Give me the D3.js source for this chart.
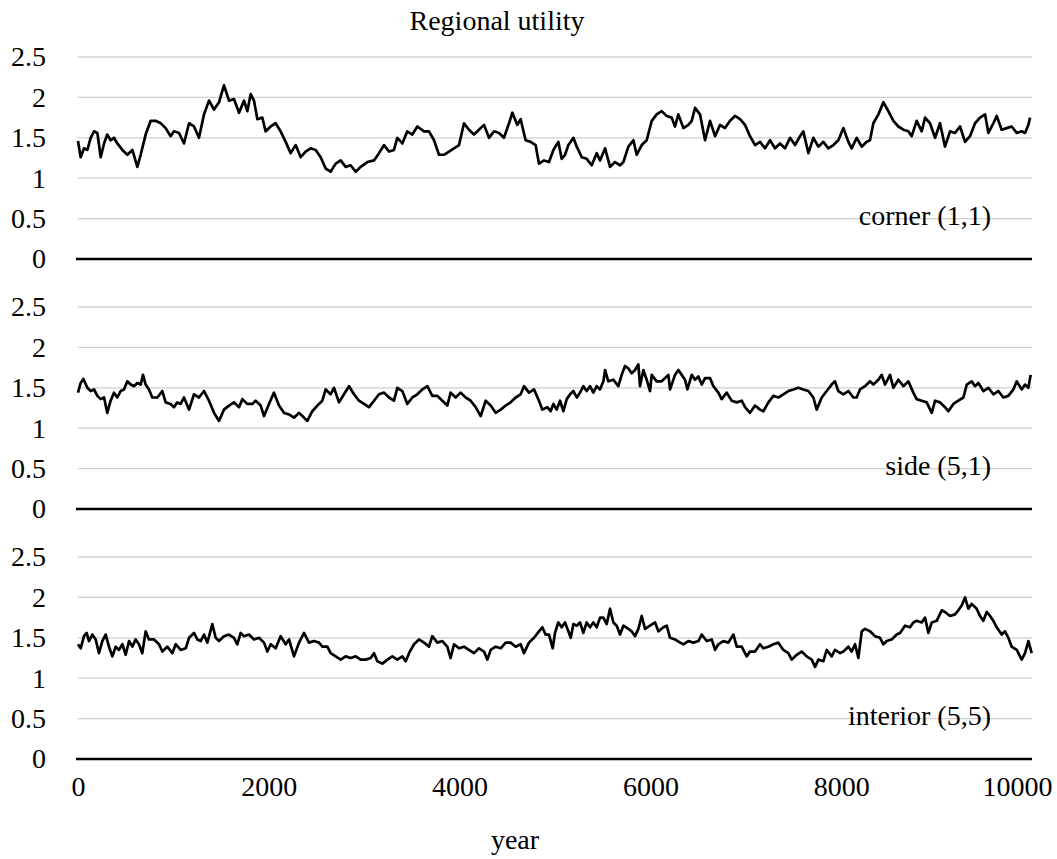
<!DOCTYPE html>
<html lang="en">
<head>
  <meta charset="utf-8">
  <title>Regional utility</title>
  <script src="https://cdn.jsdelivr.net/npm/d3@7/dist/d3.min.js"></script>
  <style type="text/css">
    body{ margin:0; background:#fff; }
    text{ font-family: "Liberation Serif", "Times New Roman", serif; fill:#000; }
  </style>
</head>
<body>
<script type="text/javascript">

// ---- data (year, utility) ----
var cornerData = [
  [0,1.46],[28,1.26],[63,1.37],[98,1.35],[133,1.50],[168,1.58],[203,1.56],[238,1.26],[273,1.43],[307,1.54],
  [342,1.47],[377,1.50],[412,1.43],[465,1.35],[517,1.29],[570,1.35],[622,1.14],[657,1.29],[709,1.54],[762,1.71],
  [814,1.71],[867,1.68],[919,1.62],[971,1.52],[1006,1.58],[1059,1.56],[1111,1.43],[1164,1.68],[1216,1.64],[1268,1.50],
  [1321,1.79],[1373,1.96],[1426,1.85],[1478,1.94],[1530,2.15],[1583,1.96],[1635,1.98],[1688,1.81],[1740,1.96],[1775,1.83],
  [1810,2.04],[1845,1.96],[1880,1.73],[1932,1.75],[1967,1.58],[2020,1.64],[2072,1.68],[2124,1.58],[2177,1.45],[2229,1.31],
  [2282,1.41],[2334,1.26],[2386,1.33],[2439,1.37],[2491,1.35],[2544,1.26],[2596,1.12],[2648,1.08],[2701,1.18],[2753,1.22],
  [2806,1.14],[2858,1.16],[2911,1.08],[2963,1.14],[3033,1.20],[3103,1.22],[3155,1.31],[3208,1.41],[3260,1.33],[3312,1.35],
  [3347,1.50],[3400,1.43],[3452,1.58],[3504,1.54],[3557,1.64],[3627,1.58],[3679,1.58],[3732,1.47],[3784,1.29],[3836,1.29],
  [3889,1.33],[3941,1.37],[3994,1.41],[4046,1.68],[4098,1.60],[4151,1.54],[4203,1.60],[4256,1.66],[4308,1.50],[4361,1.58],
  [4413,1.56],[4465,1.50],[4518,1.68],[4553,1.81],[4605,1.66],[4640,1.73],[4692,1.47],[4745,1.45],[4797,1.41],[4832,1.18],
  [4885,1.22],[4937,1.20],[4983,1.35],[5035,1.45],[5070,1.24],[5105,1.29],[5140,1.41],[5193,1.50],[5228,1.39],[5280,1.26],
  [5332,1.24],[5385,1.16],[5437,1.31],[5472,1.22],[5525,1.37],[5577,1.14],[5629,1.20],[5682,1.16],[5717,1.20],[5769,1.39],
  [5822,1.47],[5856,1.29],[5909,1.41],[5961,1.47],[6014,1.71],[6066,1.79],[6118,1.83],[6171,1.77],[6223,1.75],[6258,1.64],
  [6293,1.79],[6346,1.62],[6398,1.66],[6433,1.71],[6468,1.87],[6520,1.79],[6573,1.47],[6625,1.71],[6678,1.52],[6730,1.66],
  [6782,1.62],[6835,1.71],[6887,1.77],[6940,1.73],[6992,1.66],[7044,1.52],[7097,1.41],[7149,1.45],[7202,1.37],[7254,1.47],
  [7306,1.37],[7359,1.43],[7411,1.37],[7464,1.50],[7516,1.41],[7569,1.52],[7603,1.58],[7656,1.31],[7708,1.50],[7761,1.39],
  [7813,1.45],[7865,1.37],[7918,1.41],[7970,1.47],[8023,1.62],[8075,1.45],[8110,1.37],[8162,1.50],[8215,1.39],[8267,1.45],
  [8302,1.47],[8337,1.68],[8390,1.79],[8442,1.94],[8494,1.83],[8547,1.71],[8599,1.64],[8652,1.60],[8704,1.58],[8739,1.52],
  [8791,1.71],[8844,1.58],[8879,1.75],[8931,1.68],[8984,1.50],[9036,1.68],[9088,1.39],[9141,1.58],[9193,1.56],[9246,1.64],
  [9298,1.45],[9350,1.52],[9403,1.68],[9455,1.75],[9508,1.79],[9543,1.56],[9595,1.68],[9630,1.77],[9682,1.60],[9735,1.62],
  [9787,1.64],[9840,1.56],[9892,1.58],[9927,1.56],[9962,1.66],[9980,1.75]
];

var sideData = [
  [0,1.44],[28,1.56],[56,1.61],[98,1.50],[133,1.46],[168,1.48],[203,1.40],[238,1.36],[273,1.38],[307,1.19],
  [342,1.34],[377,1.44],[412,1.38],[447,1.46],[482,1.48],[517,1.58],[552,1.54],[587,1.52],[622,1.56],[657,1.54],
  [681,1.66],[709,1.54],[744,1.48],[779,1.38],[832,1.38],[884,1.46],[919,1.32],[971,1.30],[1006,1.26],[1041,1.32],
  [1076,1.30],[1111,1.38],[1164,1.23],[1216,1.42],[1268,1.38],[1321,1.46],[1373,1.34],[1426,1.19],[1478,1.09],[1530,1.23],
  [1583,1.28],[1635,1.32],[1688,1.26],[1723,1.36],[1775,1.30],[1827,1.30],[1862,1.34],[1915,1.28],[1950,1.15],[2002,1.30],
  [2054,1.44],[2107,1.28],[2159,1.19],[2212,1.17],[2264,1.13],[2317,1.19],[2352,1.15],[2404,1.09],[2456,1.21],[2509,1.28],
  [2561,1.34],[2596,1.48],[2648,1.42],[2683,1.50],[2736,1.32],[2788,1.42],[2841,1.52],[2893,1.42],[2945,1.34],[2998,1.30],
  [3050,1.26],[3103,1.34],[3155,1.42],[3208,1.44],[3260,1.38],[3312,1.34],[3347,1.50],[3400,1.46],[3452,1.30],[3504,1.38],
  [3557,1.42],[3609,1.48],[3662,1.52],[3714,1.40],[3767,1.40],[3819,1.34],[3871,1.28],[3906,1.44],[3959,1.38],[4011,1.44],
  [4064,1.38],[4116,1.34],[4168,1.26],[4221,1.15],[4273,1.34],[4326,1.28],[4378,1.19],[4431,1.23],[4483,1.28],[4535,1.32],
  [4588,1.38],[4640,1.42],[4675,1.52],[4727,1.44],[4780,1.48],[4832,1.34],[4867,1.23],[4919,1.26],[4954,1.21],[4983,1.30],
  [5018,1.23],[5053,1.34],[5088,1.21],[5123,1.36],[5158,1.42],[5193,1.46],[5228,1.38],[5262,1.44],[5297,1.52],[5332,1.46],
  [5367,1.52],[5402,1.44],[5437,1.52],[5472,1.48],[5507,1.58],[5525,1.72],[5559,1.58],[5612,1.60],[5664,1.52],[5699,1.66],
  [5734,1.77],[5769,1.74],[5804,1.68],[5839,1.72],[5874,1.79],[5891,1.52],[5926,1.72],[5961,1.60],[5996,1.46],[6014,1.66],
  [6066,1.58],[6118,1.58],[6153,1.62],[6188,1.66],[6206,1.48],[6258,1.66],[6293,1.72],[6328,1.66],[6363,1.60],[6388,1.48],
  [6433,1.66],[6468,1.60],[6503,1.64],[6538,1.54],[6573,1.62],[6625,1.62],[6660,1.52],[6712,1.44],[6747,1.36],[6800,1.44],
  [6852,1.34],[6905,1.32],[6957,1.34],[6992,1.26],[7044,1.19],[7097,1.28],[7149,1.23],[7184,1.21],[7237,1.32],[7289,1.40],
  [7341,1.38],[7394,1.42],[7446,1.46],[7499,1.48],[7551,1.50],[7603,1.48],[7656,1.46],[7708,1.38],[7743,1.23],[7796,1.38],
  [7848,1.46],[7900,1.54],[7935,1.58],[7970,1.46],[8023,1.42],[8075,1.46],[8128,1.38],[8162,1.38],[8197,1.48],[8250,1.52],
  [8302,1.58],[8337,1.54],[8390,1.60],[8425,1.66],[8459,1.54],[8512,1.66],[8547,1.50],[8599,1.60],[8652,1.52],[8704,1.58],
  [8756,1.44],[8791,1.36],[8844,1.34],[8896,1.32],[8949,1.19],[8984,1.34],[9036,1.32],[9088,1.26],[9123,1.21],[9176,1.30],
  [9228,1.34],[9281,1.38],[9316,1.54],[9368,1.58],[9403,1.52],[9438,1.56],[9490,1.46],[9543,1.50],[9595,1.42],[9647,1.46],
  [9700,1.38],[9752,1.40],[9805,1.48],[9840,1.58],[9892,1.48],[9927,1.54],[9962,1.50],[9986,1.66]
];

var interiorData = [
  [0,1.42],[28,1.37],[63,1.52],[91,1.56],[115,1.46],[150,1.54],[185,1.48],[220,1.31],[255,1.46],[290,1.54],
  [325,1.39],[360,1.27],[395,1.39],[430,1.35],[465,1.42],[500,1.29],[535,1.46],[570,1.39],[604,1.48],[639,1.42],
  [674,1.31],[709,1.58],[744,1.48],[797,1.48],[849,1.42],[884,1.33],[936,1.39],[989,1.31],[1024,1.42],[1076,1.35],
  [1129,1.37],[1164,1.50],[1216,1.56],[1251,1.48],[1286,1.46],[1321,1.54],[1356,1.44],[1408,1.67],[1443,1.50],[1478,1.46],
  [1530,1.52],[1583,1.54],[1635,1.50],[1670,1.42],[1705,1.56],[1740,1.52],[1792,1.54],[1845,1.48],[1897,1.50],[1950,1.44],
  [1985,1.33],[2020,1.42],[2072,1.37],[2124,1.52],[2177,1.42],[2212,1.48],[2264,1.27],[2317,1.44],[2369,1.56],[2421,1.44],
  [2474,1.46],[2526,1.44],[2561,1.39],[2614,1.39],[2648,1.31],[2701,1.27],[2753,1.23],[2806,1.27],[2858,1.25],[2911,1.27],
  [2963,1.23],[3015,1.23],[3068,1.25],[3103,1.31],[3138,1.21],[3190,1.18],[3243,1.23],[3295,1.27],[3347,1.23],[3400,1.27],
  [3435,1.21],[3470,1.31],[3522,1.42],[3574,1.48],[3627,1.44],[3679,1.39],[3714,1.52],[3767,1.44],[3819,1.46],[3871,1.39],
  [3906,1.25],[3941,1.42],[3994,1.37],[4046,1.39],[4098,1.35],[4151,1.31],[4203,1.37],[4256,1.33],[4291,1.23],[4326,1.35],
  [4378,1.39],[4431,1.37],[4483,1.44],[4535,1.44],[4588,1.39],[4640,1.42],[4675,1.31],[4727,1.44],[4780,1.50],[4832,1.58],
  [4867,1.63],[4902,1.54],[4937,1.54],[4976,1.37],[5000,1.56],[5035,1.69],[5070,1.63],[5105,1.69],[5140,1.58],[5165,1.50],
  [5193,1.67],[5228,1.65],[5262,1.69],[5297,1.56],[5332,1.69],[5367,1.63],[5402,1.69],[5437,1.63],[5472,1.75],[5507,1.75],
  [5542,1.67],[5577,1.86],[5612,1.69],[5647,1.65],[5682,1.54],[5717,1.65],[5769,1.61],[5804,1.58],[5839,1.52],[5874,1.61],
  [5909,1.77],[5944,1.61],[5996,1.65],[6049,1.69],[6084,1.58],[6136,1.63],[6171,1.65],[6206,1.50],[6258,1.48],[6311,1.44],
  [6346,1.42],[6398,1.46],[6450,1.44],[6503,1.46],[6538,1.54],[6590,1.46],[6643,1.48],[6678,1.35],[6712,1.42],[6765,1.46],
  [6817,1.44],[6870,1.54],[6905,1.39],[6957,1.39],[7009,1.27],[7044,1.33],[7097,1.33],[7149,1.42],[7184,1.37],[7237,1.39],
  [7289,1.42],[7341,1.44],[7394,1.35],[7446,1.31],[7481,1.23],[7534,1.29],[7586,1.33],[7638,1.27],[7691,1.23],[7726,1.14],
  [7761,1.23],[7813,1.21],[7848,1.35],[7900,1.27],[7935,1.35],[7988,1.31],[8023,1.33],[8075,1.39],[8110,1.33],[8145,1.42],
  [8180,1.25],[8215,1.58],[8250,1.61],[8302,1.58],[8355,1.52],[8407,1.50],[8442,1.42],[8477,1.46],[8529,1.48],[8582,1.54],
  [8617,1.56],[8669,1.65],[8722,1.63],[8756,1.69],[8791,1.71],[8844,1.69],[8879,1.75],[8914,1.56],[8949,1.69],[9001,1.71],
  [9054,1.84],[9088,1.82],[9141,1.77],[9193,1.79],[9228,1.84],[9263,1.90],[9298,2.00],[9333,1.86],[9368,1.92],[9420,1.86],
  [9455,1.77],[9490,1.71],[9525,1.82],[9560,1.77],[9595,1.71],[9630,1.63],[9682,1.54],[9717,1.58],[9752,1.50],[9787,1.39],
  [9840,1.35],[9892,1.23],[9927,1.31],[9962,1.46],[9997,1.31]
];

var panelNames = ["corner (1,1)", "side (5,1)", "interior (5,5)"];
var panelSeries = [cornerData, sideData, interiorData];
var yTicks = [0, 0.5, 1, 1.5, 2, 2.5];
var xTicks = [0, 2000, 4000, 6000, 8000, 10000];

var width = 1057;
var height = 859;
var leftMargin = 78;
var rightEdge = 1032;
var panelTop = 57;
var panelH = 202;
var panelStep = 250;
var fontSize = "28px";

var svg = d3.select("body")
    .append("svg")
    .attr("width", width)
    .attr("height", height);

var xScale = d3.scaleLinear().domain([0, 10000]).range([leftMargin, rightEdge]);

// title - sits a bit left of the plot centre in the original
svg.append("text")
    .attr("x", 497)
    .attr("y", 30)
    .attr("text-anchor", "middle")
    .style("font-size", fontSize)
    .text("Regional utility");

panelSeries.forEach(function(series, i){
    var top = panelTop + i * panelStep;
    var yScale = d3.scaleLinear().domain([0, 2.5]).range([top + panelH, top]);

    var g = svg.append("g");

    // light gridlines (not the zero one, that's the axis)
    g.selectAll(".grid")
        .data(yTicks.filter(function(d){ return d > 0; }))
        .enter()
        .append("line")
        .attr("class", "grid")
        .attr("x1", leftMargin)
        .attr("x2", rightEdge)
        .attr("y1", function(d){ return yScale(d); })
        .attr("y2", function(d){ return yScale(d); })
        .attr("stroke", "#d0d0d0")
        .attr("stroke-width", 1.3);

    // y axis labels
    var yAxis = d3.axisLeft(yScale)
        .tickValues(yTicks)
        .tickSize(0)
        .tickPadding(32)
        .tickFormat(function(d){ return String(d); });
    var ya = g.append("g")
        .attr("transform", "translate(" + leftMargin + ",0)")
        .call(yAxis);
    ya.select(".domain").remove();
    ya.selectAll("text")
        .style("font-family", '"Liberation Serif", "Times New Roman", serif')
        .style("font-size", fontSize);

    // zero line
    g.append("line")
        .attr("x1", leftMargin - 2)
        .attr("x2", rightEdge)
        .attr("y1", yScale(0))
        .attr("y2", yScale(0))
        .attr("stroke", "#000")
        .attr("stroke-width", 2.6);

    // the series
    var line = d3.line()
        .x(function(d){ return xScale(d[0]); })
        .y(function(d){ return yScale(d[1]); });

    g.append("path")
        .datum(series)
        .attr("d", line)
        .attr("fill", "none")
        .attr("stroke", "#000")
        .attr("stroke-width", 2.7)
        .attr("stroke-linejoin", "round");

    // panel label
    g.append("text")
        .attr("x", 991)
        .attr("y", yScale(0.5) + 6)
        .attr("text-anchor", "end")
        .style("font-size", fontSize)
        .text(panelNames[i]);
});

// x axis labels under the last panel
var lastZero = panelTop + 2 * panelStep + panelH;
var xAxis = d3.axisBottom(xScale)
    .tickValues(xTicks)
    .tickSize(0)
    .tickPadding(17)
    .tickFormat(function(d){ return String(d); });
var xa = svg.append("g")
    .attr("transform", "translate(0," + lastZero + ")")
    .call(xAxis);
xa.select(".domain").remove();
xa.selectAll("text")
    .style("font-family", '"Liberation Serif", "Times New Roman", serif')
    .style("font-size", fontSize)
    .attr("dx", function(d){ return d === 10000 ? -15 : 0; });

// axis title
svg.append("text")
    .attr("x", 515)
    .attr("y", 849)
    .attr("text-anchor", "middle")
    .style("font-size", fontSize)
    .text("year");

</script>
</body>
</html>
